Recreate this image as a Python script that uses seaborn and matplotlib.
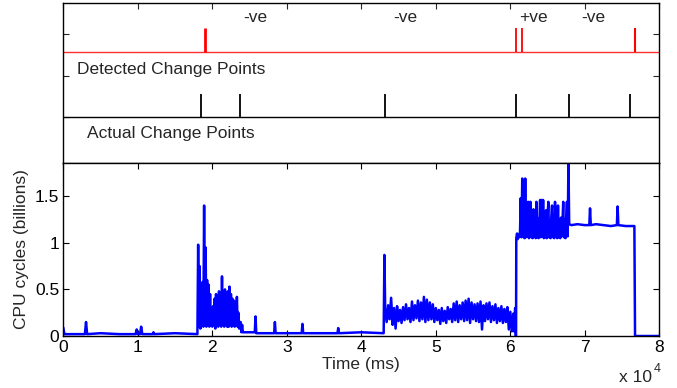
import numpy as np
import pandas as pd
import matplotlib
matplotlib.use("Agg")
import matplotlib.pyplot as plt
import seaborn as sns

# ---------------- values ----------------
# quiet stretches, explicit samples (time in ms, cpu in billions of cycles)
idle1_t = [0, 150, 300, 2900, 3050, 3200, 5000, 7500, 9700, 9850, 10000,
           10300, 10450, 10600, 12000, 12100, 12200, 15000, 17950]
idle1_cpu = [0.09, 0.02, 0.02, 0.02, 0.15, 0.02, 0.03, 0.02, 0.02, 0.07, 0.02,
             0.02, 0.10, 0.02, 0.02, 0.04, 0.02, 0.03, 0.02]

idle2_t = [23800, 23900, 24000, 24100, 24500, 25700, 25800, 25900, 26000,
           28300, 28400, 28500, 32000, 32100, 32200, 36800, 36900, 37000,
           40000, 42950, 43000, 43100]
idle2_cpu = [0.15, 0.04, 0.12, 0.04, 0.04, 0.04, 0.21, 0.03, 0.03,
             0.03, 0.15, 0.03, 0.03, 0.13, 0.03, 0.03, 0.085, 0.03,
             0.04, 0.03, 0.03, 0.87]

# bursty stretches, evenly sampled between start and end
burst1_span = (18000, 23700)
burst1_cpu = [0.02, 0.98, 0.10, 0.75, 0.08, 0.55, 0.12, 0.58, 0.10, 1.40,
              0.15, 0.95, 0.10, 0.60, 0.12, 0.55, 0.10, 0.45, 0.12, 0.30,
              0.10, 0.32, 0.12, 0.40, 0.08, 0.45, 0.12, 0.35, 0.10, 0.48,
              0.12, 0.40, 0.10, 0.64, 0.12, 0.45, 0.10, 0.50, 0.12, 0.42,
              0.10, 0.48, 0.10, 0.53, 0.12, 0.45, 0.10, 0.40, 0.12, 0.38,
              0.10, 0.35, 0.12, 0.42, 0.10, 0.25, 0.08, 0.15]

burst2_span = (43200, 60400)
burst2_cpu = [0.30, 0.15, 0.33, 0.18, 0.41, 0.12, 0.30,
              0.08, 0.32, 0.16, 0.28, 0.14, 0.31, 0.17,
              0.34, 0.18, 0.30, 0.15, 0.37, 0.17, 0.33, 0.19,
              0.38, 0.16, 0.36, 0.18, 0.42, 0.15, 0.39, 0.17,
              0.36, 0.18, 0.34, 0.15, 0.30, 0.17, 0.28, 0.13,
              0.30, 0.16, 0.27, 0.14, 0.31, 0.18, 0.29, 0.15,
              0.35, 0.17, 0.37, 0.15, 0.33, 0.18, 0.36, 0.16,
              0.38, 0.17, 0.40, 0.14, 0.36, 0.18, 0.34, 0.16,
              0.35, 0.15, 0.37, 0.07, 0.33, 0.16, 0.35, 0.18,
              0.36, 0.15, 0.32, 0.17, 0.34, 0.14, 0.30, 0.16,
              0.32, 0.14, 0.29, 0.15, 0.31, 0.07, 0.26, 0.05, 0.24]

gap_t = [60500, 60650, 60720, 60770]
gap_cpu = [0.05, 0.30, 0.0, 0.0]

burst3_span = (60800, 67800)
burst3_cpu = [1.05, 1.10, 1.04, 1.09, 1.06, 1.12,
              1.48, 1.06, 1.69, 1.07, 1.30, 1.05, 1.69, 1.06, 1.28, 1.07,
              1.44, 1.05, 1.25, 1.44, 1.06, 1.22, 1.05, 1.36, 1.07, 1.24,
              1.05, 1.44, 1.06, 1.26, 1.05, 1.22, 1.46, 1.06, 1.46, 1.07,
              1.46, 1.05, 1.24, 1.06, 1.35, 1.05, 1.27, 1.44, 1.06, 1.23,
              1.05, 1.28, 1.40, 1.06, 1.22, 1.05, 1.44, 1.07, 1.25, 1.05,
              1.40, 1.06, 1.24, 1.05, 1.27, 1.07, 1.22, 1.44, 1.06, 1.25,
              1.05, 1.28, 1.44, 1.07, 1.87]

flat_t = [67900, 68200, 69000, 70000, 70600, 70700, 70800, 71500, 72500,
          73500, 74300, 74400, 74500, 75500, 76650, 76740, 80000]
flat_cpu = [1.20, 1.19, 1.20, 1.19, 1.19, 1.37, 1.19, 1.20, 1.19,
            1.18, 1.19, 1.39, 1.19, 1.18, 1.18, 0.0, 0.0]

# change points (ms)
actual_cp = [18520, 23720, 43140, 60770, 67920, 76030]
detected_cp = [19060, 60770, 61530, 76780]
direction_x = [25800, 45870, 63100, 71100]
direction_label = ["-ve", "-ve", "+ve", "-ve"]

x_ticks = [0, 10000, 20000, 30000, 40000, 50000, 60000, 70000, 80000]
y_ticks = [0, 0.5, 1, 1.5]


def _even(span, values):
    return list(np.linspace(span[0], span[1], len(values)))


time_ms = (idle1_t + _even(burst1_span, burst1_cpu) + idle2_t
           + _even(burst2_span, burst2_cpu) + gap_t
           + _even(burst3_span, burst3_cpu) + flat_t)
cpu = (idle1_cpu + burst1_cpu + idle2_cpu + burst2_cpu + gap_cpu
       + burst3_cpu + flat_cpu)
df = pd.DataFrame({"time_ms": time_ms, "cpu": cpu})

# ---------------- figure ----------------
sns.set_theme(style="ticks")
plt.rcParams["font.family"] = ["Liberation Sans", "DejaVu Sans"]
fs = 12.5

fig = plt.figure(figsize=(6.77, 3.88), dpi=100)
ax_cp = fig.add_axes([0.0935, 0.5807, 0.8804, 0.4108])
ax = fig.add_axes([0.0935, 0.134, 0.8804, 0.4467])

sns.lineplot(data=df, x="time_ms", y="cpu", ax=ax, color="#0000ff",
             linewidth=1.8, estimator=None, sort=False)
ax.set_xlim(0, 80000)
ax.set_ylim(0, 1.86)
ax.set_xticks(x_ticks)
ax.set_xticklabels([f"{t / 10000:g}" for t in x_ticks], fontsize=fs)
ax.set_yticks(y_ticks)
ax.set_yticklabels([f"{v:g}" for v in y_ticks], fontsize=fs)
ax.set_xlabel("Time (ms)", fontsize=fs, labelpad=1)
ax.set_ylabel("CPU cycles (billions)", fontsize=fs, labelpad=4)
ax.tick_params(direction="in", length=4, width=0.8, top=True, right=True,
               pad=3, colors="black")
fig.text(0.9145, 0.026, "x 10", fontsize=fs, ha="left", va="center")
fig.text(0.966, 0.048, "4", fontsize=9, ha="left", va="center")

# change point panel
ax_cp.set_xlim(0, 80000)
ax_cp.set_ylim(-0.094, 3.747)
ax_cp.axhline(1.0, color="black", linewidth=1.0)
ax_cp.vlines(actual_cp, 1.0, 1.56, color="black", linewidth=1.3)
ax_cp.axhline(2.58, color="#ff3030", linewidth=1.0)
ax_cp.vlines(detected_cp, 2.58, 3.145, color="red",
             linewidth=[2.0, 1.3, 1.3, 1.5])
for xd, lab in zip(direction_x, direction_label):
    ax_cp.text(xd, 3.41, lab, fontsize=fs, ha="center", va="center")
ax_cp.text(1800, 2.16, "Detected Change Points", fontsize=fs, va="center")
ax_cp.text(3220, 0.6, "Actual Change Points", fontsize=fs, va="center")
ax_cp.set_xticks(x_ticks)
ax_cp.set_yticks([1, 2, 3])
ax_cp.tick_params(direction="in", length=4, width=0.8, top=True, right=True,
                  bottom=False, labelbottom=False, labelleft=False)
ax_cp.set_xlabel("")
ax_cp.set_ylabel("")

for a in (ax, ax_cp):
    for s in a.spines.values():
        s.set_color("black")
        s.set_linewidth(1.0)

fig.savefig("out.png", dpi=100)
